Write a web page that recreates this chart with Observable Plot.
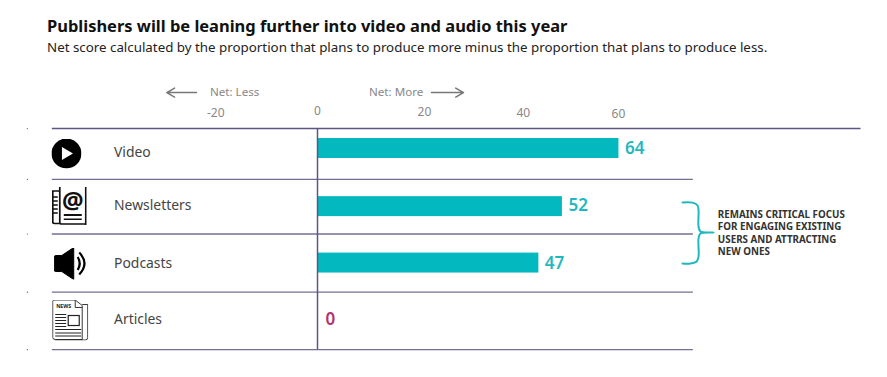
<!DOCTYPE html>
<html>
<head>
<meta charset="utf-8">
<script src="https://cdn.jsdelivr.net/npm/d3@7"></script>
<script src="https://cdn.jsdelivr.net/npm/@observablehq/plot@0.6"></script>
<style>
html,body{margin:0;padding:0;background:#fff;overflow:hidden}
#head{height:62px;box-sizing:border-box;padding:15px 0 0 47px;font-family:"Noto Sans",sans-serif;color:#111}
#title{font-size:16.47px;font-weight:700;line-height:21px;white-space:nowrap}
#sub{font-size:13.34px;line-height:19px;margin-top:2px;color:#222;white-space:nowrap}
svg{display:block}
</style>
</head>
<body>
<div id="head">
<div id="title">Publishers will be leaning further into video and audio this year</div>
<div id="sub">Net score calculated by the proportion that plans to produce more minus the proportion that plans to produce less.</div>
</div>
<div id="chart"></div>
<script>
// Data
const categories = ["Video", "Newsletters", "Podcasts", "Articles"];
const netScores = [64, 52, 47, 0];
const barRows = [0, 1.02, 2.01, 3];
const labelRows = [0.07, 1, 2.02, 3];
const valueRows = [0, 1, 2.01, 3];
const valueColors = ["#1fb8bf", "#1fb8bf", "#1fb8bf", "#b0336f"];

// The reference's tick labels do not sit on the bars' scale: these are where it prints them
const tickLabels = ["-20", "0", "20", "40", "60"];
const tickPlacedAt = [-21.6, 0, 22.7, 43.7, 63.9];
const tickRows = [-0.614, -0.649, -0.632, -0.614, -0.596];

const separatorRows = [0.54, 1.5, 2.52, 3.53];
const topRuleRow = -0.35;
const specks = [-0.35, 0.54, 1.5, 2.52, 3.53];

const braceX = [77.5, 79.6, 80.7, 80.9, 80.9, 81.3, 84.1, 81.3, 80.9, 80.9, 80.5, 79.2, 77.5];
const braceRow = [0.947, 0.95, 1.0, 1.088, 1.368, 1.456, 1.474, 1.491, 1.579, 1.895, 1.982, 2.018, 2.018];

const noteLines = ["REMAINS CRITICAL FOCUS", "FOR ENGAGING EXISTING", "USERS AND ATTRACTING", "NEW ONES"];
const noteRows = [1.16, 1.38, 1.6, 1.82];

const svgUri = s => "data:image/svg+xml;utf8," + encodeURIComponent(s);
const iconVideo = svgUri(`<svg xmlns="http://www.w3.org/2000/svg" viewBox="0 0 30 30"><circle cx="15" cy="15" r="15" fill="#000"/><path d="M10.5 8.5 L21.5 15 L10.5 21.5Z" fill="#fff"/></svg>`);
const iconNews = svgUri(`<svg xmlns="http://www.w3.org/2000/svg" viewBox="0 0 35 38"><g fill="none" stroke="#111" stroke-width="1.7"><path d="M8 4H1V35Q1 36.5 3 36.5H8"/><path d="M34 0V38"/><path d="M8 0V35.5Q8 37 10 37H34"/><path d="M1 10H6M1 14H6M1 18H6M1 22H6M1 26H6"/></g><text x="21" y="22" font-family="Noto Sans" font-weight="700" font-size="24" text-anchor="middle" fill="#111">@</text><path d="M12 27H30V29H12ZM12 31.5H30V33H12Z" fill="#111"/></svg>`);
const iconSpeaker = svgUri(`<svg xmlns="http://www.w3.org/2000/svg" viewBox="0 0 33 32"><path d="M0.5 9.5Q0.5 8 2 8H8L20 0V32L8 24H2Q0.5 24 0.5 22.5Z" fill="#000" stroke="#000" stroke-linejoin="round"/><g fill="none" stroke="#000" stroke-width="2.2"><path d="M24 9.5Q28 16 24 22.5"/><path d="M25.5 5Q36 16 25.5 27"/></g></svg>`);
const iconPaper = svgUri(`<svg xmlns="http://www.w3.org/2000/svg" viewBox="0 0 36 41"><g fill="none" stroke="#222" stroke-width="0.9"><path d="M1.5 0.5H23L30 6V40H3Q0.5 40 0.5 38V1.5Z" fill="#fff"/><path d="M30 5H35.5V38Q35.5 40.5 33 40.5H3"/><path d="M23 0.5V8H30"/><rect x="16" y="16" width="11" height="10" stroke-width="1.2"/></g><path d="M3 15H14M3 18H14M3 21H14M3 24H14M3 27H14M3 30H29M3 33.5H29M3 36.5H29" stroke="#222" stroke-width="1"/></svg>`);
const icons = [iconVideo, iconNews, iconSpeaker, iconPaper];
const iconX = [-53.3, -52.7, -52.5, -52.5];
const iconRows = [0.088, 1.009, 2.018, 3.009];
const iconW = [30, 35, 33, 36];
const iconH = [30, 38, 32, 41];

const rows = categories.map((c, i) => ({
  c, v: netScores[i], bar: barRows[i], lab: labelRows[i], val: valueRows[i], col: valueColors[i],
  icon: icons[i], ix: iconX[i], ir: iconRows[i], iw: iconW[i], ih: iconH[i]
}));
const ticks = tickLabels.map((t, i) => ({t, x: tickPlacedAt[i], r: tickRows[i]}));
const brace = braceX.map((x, i) => ({x, r: braceRow[i]}));
const notes = noteLines.map((t, i) => ({t, r: noteRows[i]}));

const font = '"Noto Sans",sans-serif';
const ruleColor = "#5b5682";

const chart = Plot.plot({
  width: 887, height: 315, margin: 0,
  style: {background: "transparent", fontFamily: font},
  x: {domain: [-317 / 4.71, 570 / 4.71], range: [0, 887], axis: null},
  y: {domain: [0, 3], range: [86, 257], axis: null},
  marks: [
    Plot.rectX(rows, {x1: 0, x2: "v", y1: d => d.bar - 0.175, y2: d => d.bar + 0.175, fill: "#03b8bf"}),
    Plot.ruleY([topRuleRow], {x1: -56.3, x2: 115.4, stroke: ruleColor, strokeWidth: 1.5}),
    Plot.ruleY(separatorRows, {x1: -56.3, x2: 79.8, stroke: ruleColor, strokeWidth: 1.3, strokeOpacity: 0.85}),
    Plot.ruleX([0], {y1: topRuleRow, y2: 3.53, stroke: ruleColor, strokeWidth: 1.5}),
    Plot.dot(specks, {x: -61.6, y: d => d, r: 0.6, fill: "#555"}),
    Plot.image(rows, {x: "ix", y: "ir", src: "icon", width: "iw", height: "ih"}),
    Plot.text(["NEWS"], {x: -53.9, y: 2.77, text: d => d, fontSize: 5.2, fontWeight: 700, fill: "#222", textAnchor: "middle"}),
    Plot.text(rows, {x: -43.2, y: "lab", text: "c", fontSize: 13.9, fill: "#444", textAnchor: "start"}),
    Plot.text(rows, {x: d => d.v === 0 ? 0.4 : d.v, y: "val", text: d => String(d.v), dx: 6, fill: "col", fontSize: 17, fontWeight: 600, textAnchor: "start"}),
    Plot.text(ticks, {x: "x", y: "r", text: "t", fontSize: 12, fill: "#888"}),
    Plot.text(["Net: Less"], {x: -17.6, y: -0.982, text: d => d, fontSize: 11.6, fill: "#888"}),
    Plot.text(["Net: More"], {x: 16.7, y: -0.982, text: d => d, fontSize: 11.6, fill: "#888"}),
    Plot.arrow([0], {x1: -25.7, x2: -32, y1: -0.982, y2: -0.982, stroke: "#777", strokeWidth: 1.5, headLength: 9, bend: 0}),
    Plot.arrow([0], {x1: 24.2, x2: 31, y1: -0.982, y2: -0.982, stroke: "#777", strokeWidth: 1.5, headLength: 9, bend: 0}),
    Plot.line(brace, {x: "x", y: "r", stroke: "#1fb8bf", strokeWidth: 2, curve: "catmull-rom"}),
    Plot.text(notes, {x: 85, y: "r", text: "t", fontSize: 9.8, fontWeight: 700, fill: "#333", textAnchor: "start"})
  ]
});
document.getElementById("chart").appendChild(chart);
</script>
</body>
</html>
